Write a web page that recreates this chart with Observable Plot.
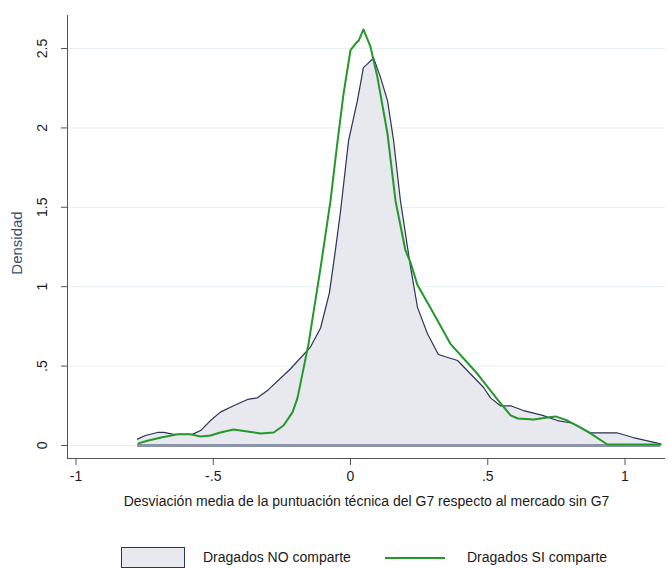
<!DOCTYPE html>
<html>
<head>
<meta charset="utf-8">
<script src="https://cdn.jsdelivr.net/npm/d3@7"></script>
<script src="https://cdn.jsdelivr.net/npm/@observablehq/plot@0.6"></script>
<style>
  html, body { margin: 0; padding: 0; background: #fff; }
  #wrap { position: relative; width: 668px; height: 569px; font-family: "Liberation Sans", Arial, sans-serif; overflow: hidden; }
  #chart { position: absolute; left: 0; top: 0; }
  .leg { position: absolute; font-size: 14px; color: #1a1a1a; white-space: nowrap; }
</style>
</head>
<body>
<div id="wrap">
  <div id="chart"></div>
  <div class="leg" style="left:121px; top:547px; width:62px; height:19px; background:#e8e9ef; border:1px solid #2c3457;"></div>
  <div class="leg" style="left:203px; top:549px;">Dragados NO comparte</div>
  <div class="leg" style="left:385px; top:557px; width:60px; height:2px; background:#22992a;"></div>
  <div class="leg" style="left:467px; top:549px;">Dragados SI comparte</div>
</div>
<script>
// Density curve: Dragados NO comparte (filled area)
const noX = [-0.776, -0.747, -0.703, -0.68, -0.645, -0.576, -0.546, -0.51, -0.474, -0.426, -0.375, -0.339, -0.30, -0.22, -0.146, -0.109, -0.077, -0.055, -0.036, -0.007, 0.007, 0.025, 0.047, 0.06, 0.084, 0.109, 0.135, 0.157, 0.182, 0.219, 0.244, 0.28, 0.32, 0.39, 0.485, 0.51, 0.546, 0.583, 0.63, 0.70, 0.754, 0.81, 0.874, 0.97, 1.03, 1.13];
const noY = [0.04, 0.063, 0.082, 0.082, 0.07, 0.07, 0.094, 0.157, 0.21, 0.25, 0.29, 0.30, 0.35, 0.48, 0.62, 0.74, 0.96, 1.23, 1.48, 1.92, 2.03, 2.17, 2.38, 2.40, 2.44, 2.32, 2.17, 1.92, 1.54, 1.12, 0.87, 0.705, 0.573, 0.535, 0.365, 0.30, 0.25, 0.25, 0.22, 0.19, 0.157, 0.14, 0.08, 0.08, 0.05, 0.01];
// Density curve: Dragados SI comparte (green line)
const siX = [-0.772, -0.74, -0.69, -0.63, -0.583, -0.546, -0.51, -0.474, -0.426, -0.375, -0.328, -0.28, -0.244, -0.211, -0.193, -0.18, -0.153, -0.109, -0.073, -0.047, -0.025, 0.0, 0.018, 0.03, 0.047, 0.073, 0.098, 0.135, 0.164, 0.2, 0.219, 0.244, 0.29, 0.364, 0.463, 0.535, 0.583, 0.61, 0.667, 0.717, 0.747, 0.79, 0.838, 0.874, 0.936, 1.13];
const siY = [0.013, 0.03, 0.05, 0.07, 0.07, 0.057, 0.063, 0.082, 0.10, 0.088, 0.076, 0.082, 0.126, 0.21, 0.30, 0.41, 0.64, 1.12, 1.54, 1.92, 2.22, 2.49, 2.53, 2.55, 2.62, 2.51, 2.32, 1.96, 1.54, 1.23, 1.15, 1.01, 0.87, 0.64, 0.45, 0.29, 0.19, 0.17, 0.164, 0.176, 0.183, 0.157, 0.113, 0.076, 0.006, 0.006];

const xTicks = [-1, -0.5, 0, 0.5, 1];
const xTickLabels = ["-1", "-.5", "0", ".5", "1"];
const yTicks = [0, 0.5, 1, 1.5, 2, 2.5];
const yTickLabels = ["0", ".5", "1", "1.5", "2", "2.5"];
const xTitle = "Desviación media de la puntuación técnica del G7 respecto al mercado sin G7";
const yTitle = "Densidad";

const noData = noX.map((x, i) => ({x, y: noY[i]}));
const siData = siX.map((x, i) => ({x, y: siY[i]}));
const xDom = [-1.031, 1.1475];
const yDom = [-0.082, 2.708];

const chart = Plot.plot({
  width: 668,
  height: 530,
  marginLeft: 67,
  marginRight: 3,
  marginTop: 15,
  marginBottom: 72,
  style: { fontFamily: "Liberation Sans, Arial, sans-serif", fontSize: "14px", color: "#1a1a1a", background: "#fff" },
  x: { domain: xDom },
  y: { domain: yDom },
  marks: [
    Plot.ruleY(yTicks, { stroke: "#e6eef0", strokeWidth: 1 }),
    Plot.areaY(noData, { x: "x", y: "y", fill: "#e8e9ef" }),
    Plot.ruleY([0], { x1: noX[0], x2: noX[noX.length - 1], stroke: "#8b93a9", strokeWidth: 3 }),
    Plot.lineY(noData, { x: "x", y: "y", stroke: "#2c3457", strokeWidth: 1.2 }),
    Plot.lineY(siData, { x: "x", y: "y", stroke: "#22992a", strokeWidth: 2 }),
    Plot.ruleX([xDom[0]], { stroke: "#555", strokeWidth: 1 }),
    Plot.ruleY([yDom[0]], { stroke: "#555", strokeWidth: 1 }),
    Plot.axisX({ ticks: xTicks, tickFormat: (d, i) => xTickLabels[i], tickSize: 7, tickPadding: 6, stroke: "#555", label: null, fontSize: 14 }),
    Plot.axisY({ ticks: yTicks, tickFormat: () => "", tickSize: 6, stroke: "#555", label: null }),
    Plot.text(yTicks, { y: d => d, text: (d, i) => yTickLabels[i], frameAnchor: "left", dx: -25, rotate: -90, textAnchor: "middle", fontSize: 14, fill: "#1a1a1a" }),
    Plot.text([xTitle], { text: d => d, frameAnchor: "bottom", dy: 47, fontSize: 14, fill: "#1a1a1a" }),
    Plot.text([yTitle], { text: d => d, frameAnchor: "left", dx: -50, dy: 6, rotate: -90, textAnchor: "middle", fontSize: 15, fill: "#3a4f6e" })
  ]
});
document.getElementById("chart").appendChild(chart);
</script>
</body>
</html>
